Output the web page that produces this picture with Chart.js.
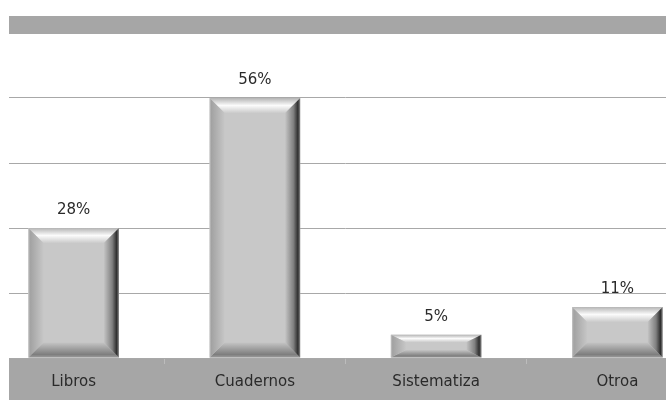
<!DOCTYPE html>
<html>
<head>
<meta charset="utf-8">
<script src="https://cdn.jsdelivr.net/npm/chart.js@4.4.1/dist/chart.umd.min.js"></script>
<style>
  html, body { margin: 0; padding: 0; background: #fff; overflow: hidden; width: 666px; height: 400px; }
  #wrap { position: relative; width: 666px; height: 400px; overflow: hidden; }
  #c { position: absolute; left: -17px; top: 0; }
</style>
</head>
<body>
<div id="wrap"><canvas id="c" width="725" height="410"></canvas></div>
<script>
// Material used for note-taking
const categories = ['Libros', 'Cuadernos', 'Sistematiza', 'Otroa'];
const shares = [28, 56, 5, 11];            // percent
const valueTicks = [0, 14, 28, 42, 56, 70]; // gridline values

const BAND = '#a6a6a6';
const TEXT = '#2a2a2a';
const FONT = '"DejaVu Sans", Verdana, sans-serif';
const BAND_LEFT = 26; // where the bands and gridlines begin on the canvas

function grad(ctx, x0, y0, x1, y1, stops) {
  const g = ctx.createLinearGradient(x0, y0, x1, y1);
  stops.forEach(([o, c]) => g.addColorStop(o, c));
  return g;
}
function poly(ctx, pts, fill) {
  ctx.beginPath();
  ctx.moveTo(pts[0][0], pts[0][1]);
  for (let i = 1; i < pts.length; i++) ctx.lineTo(pts[i][0], pts[i][1]);
  ctx.closePath();
  ctx.fillStyle = fill;
  ctx.fill();
}

// Bevelled faces on each bar
function bevel(ctx, L, T, R, B) {
  const w = R - L, h = B - T;
  const bx = Math.min(15, w / 4);
  const by = Math.min(15, h * 0.33);
  poly(ctx, [[L, T], [R, T], [R - bx, T + by], [L + bx, T + by]],
    grad(ctx, 0, T, 0, T + by, [[0, '#b4b4b4'], [0.5, '#fbfbfb'], [1, '#cacaca']]));
  poly(ctx, [[L, B], [R, B], [R - bx, B - by], [L + bx, B - by]],
    grad(ctx, 0, B, 0, B - by, [[0, '#9c9c9c'], [0.2, '#7e7e7e'], [1, '#c4c4c4']]));
  poly(ctx, [[L, T], [L + bx, T + by], [L + bx, B - by], [L, B]],
    grad(ctx, L, 0, L + bx, 0, [[0, '#c4c4c4'], [0.12, '#a2a2a2'], [1, '#c6c6c6']]));
  poly(ctx, [[R, T], [R - bx, T + by], [R - bx, B - by], [R, B]],
    grad(ctx, R, 0, R - bx, 0, [[0, '#8a8a8a'], [0.15, '#2e2e2e'], [0.45, '#808080'], [1, '#c4c4c4']]));
}

const framePlugin = {
  id: 'frame',
  beforeDraw(chart) {
    const { ctx, chartArea, width, height } = chart;
    ctx.save();
    ctx.fillStyle = '#fff';
    ctx.fillRect(0, 0, width, height);
    ctx.fillStyle = BAND;
    ctx.fillRect(BAND_LEFT, chartArea.bottom, width - BAND_LEFT, height - chartArea.bottom);
    ctx.restore();
  },
  beforeDatasetsDraw(chart) {
    const { ctx, chartArea, width } = chart;
    ctx.save();
    ctx.fillStyle = '#fff';
    ctx.fillRect(0, 0, BAND_LEFT, chartArea.bottom + 2);
    ctx.fillStyle = BAND;
    ctx.fillRect(BAND_LEFT, 16, width - BAND_LEFT, 18);
    ctx.restore();
  },
  afterDatasetsDraw(chart) {
    const { ctx } = chart;
    const meta = chart.getDatasetMeta(0);
    ctx.save();
    meta.data.forEach((bar, i) => {
      const { x, y, base, width } = bar.getProps(['x', 'y', 'base', 'width'], true);
      bevel(ctx, x - width / 2, y, x + width / 2, base);
      ctx.fillStyle = TEXT;
      ctx.font = '15px ' + FONT;
      ctx.textAlign = 'center';
      ctx.textBaseline = 'middle';
      ctx.fillText(shares[i] + '%', x, y - 18);
    });
    ctx.restore();
  }
};

new Chart(document.getElementById('c'), {
  type: 'bar',
  data: {
    labels: categories,
    datasets: [{
      data: shares,
      backgroundColor: '#c8c8c8',
      borderWidth: 0,
      barPercentage: 0.5,
      categoryPercentage: 1.0
    }]
  },
  options: {
    responsive: false,
    animation: false,
    devicePixelRatio: 1,
    layout: { padding: { top: 33, bottom: 9, left: 0, right: 0 } },
    plugins: { legend: { display: false }, tooltip: { enabled: false }, title: { display: false } },
    scales: {
      x: {
        offset: true,
        border: { display: false },
        grid: { display: true, drawOnChartArea: false, drawTicks: true, tickLength: 6, color: '#bcbcbc', offset: true },
        ticks: { color: TEXT, padding: 9.5, font: { family: FONT, size: 15, lineHeight: 1.2 }, maxRotation: 0 }
      },
      y: {
        min: 0,
        max: 70,
        afterBuildTicks: s => { s.ticks = valueTicks.map(v => ({ value: v })); },
        border: { display: false },
        grid: { color: '#a8a8a8', lineWidth: 1, drawTicks: false },
        ticks: { display: false }
      }
    }
  },
  plugins: [framePlugin]
});
</script>
</body>
</html>
